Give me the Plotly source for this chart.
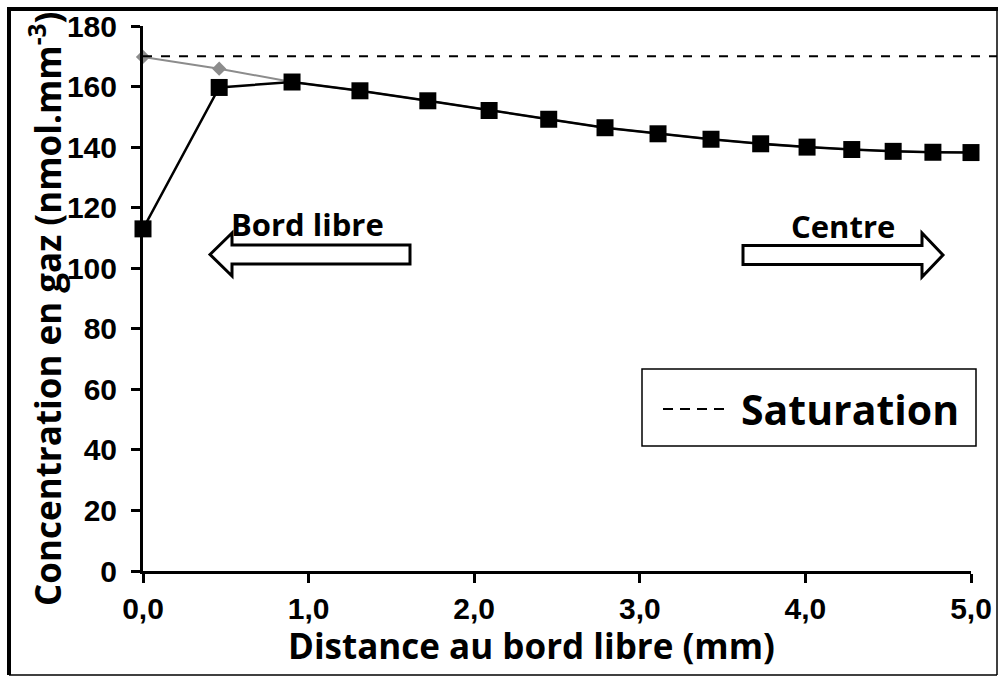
import plotly.graph_objects as go

# Gas concentration profile along the distance from the free edge
distance_mm = [0.0, 0.46, 0.90, 1.31, 1.72, 2.09, 2.45, 2.79, 3.11, 3.43, 3.73, 4.01, 4.28, 4.53, 4.77, 5.00]
conc_measured = [113.0, 159.7, 161.5, 158.6, 155.3, 152.1, 149.2, 146.4, 144.4, 142.6, 141.1, 140.0, 139.2, 138.6, 138.3, 138.2]
conc_reference = [169.8, 165.9, 161.5, 158.6, 155.3, 152.1, 149.2, 146.4, 144.4, 142.6, 141.1, 140.0, 139.2, 138.6, 138.3, 138.2]
saturation = 170.0

x_ticks = [0, 1, 2, 3, 4, 5]
y_ticks = [0, 20, 40, 60, 80, 100, 120, 140, 160, 180]

W, H = 1000, 677
L, R, T, B = 143, 971, 26, 571  # plot area in pixels


def px(X):
    return (X - L) / (R - L)


def py(Y):
    return (B - Y) / (B - T)


SANS = "'Open Sans', 'Noto Sans', sans-serif"
TICK_FONT = dict(family="'Liberation Sans', Arial, sans-serif", size=30, color="black", weight="bold")


def bold(size):
    return dict(family=SANS, size=size, color="black", weight="bold")


fig = go.Figure()

fig.add_trace(go.Scatter(
    x=distance_mm, y=conc_reference, mode="lines+markers",
    line=dict(color="#8c8c8c", width=2),
    marker=dict(symbol="diamond", size=11, color="#8c8c8c"),
    showlegend=False, cliponaxis=False,
))
fig.add_trace(go.Scatter(
    x=distance_mm, y=conc_measured, mode="lines+markers",
    line=dict(color="black", width=2.5),
    marker=dict(symbol="square", size=17, color="black"),
    showlegend=False, cliponaxis=False,
))

shapes = []
# saturation level, running out to the frame
shapes.append(dict(type="line", xref="paper", yref="y", x0=0, x1=px(997), y0=saturation, y1=saturation,
                   line=dict(color="black", width=2, dash="dash")))

# outer frame
shapes.append(dict(type="line", xref="paper", yref="paper", x0=px(9), x1=px(9), y0=py(7), y1=py(675),
                   line=dict(color="black", width=4)))
shapes.append(dict(type="line", xref="paper", yref="paper", x0=px(7), x1=px(998), y0=py(9), y1=py(9),
                   line=dict(color="black", width=4)))
shapes.append(dict(type="line", xref="paper", yref="paper", x0=px(997), x1=px(997), y0=py(9), y1=py(675),
                   line=dict(color="black", width=1.5)))
shapes.append(dict(type="line", xref="paper", yref="paper", x0=px(9), x1=px(997), y0=py(675), y1=py(675),
                   line=dict(color="black", width=1.5)))


def arrow_path(tip, base, end, cy, body_half, head_half):
    pts = [(tip, cy), (base, cy - head_half), (base, cy - body_half), (end, cy - body_half),
           (end, cy + body_half), (base, cy + body_half), (base, cy + head_half)]
    return "M " + " L ".join(f"{px(a):.5f},{py(b):.5f}" for a, b in pts) + " Z"


shapes.append(dict(type="path", xref="paper", yref="paper",
                   path=arrow_path(210, 232, 410, 254.5, 9.5, 21.5),
                   line=dict(color="black", width=3), fillcolor="white"))
shapes.append(dict(type="path", xref="paper", yref="paper",
                   path=arrow_path(943, 922, 743, 255, 9.5, 22),
                   line=dict(color="black", width=3), fillcolor="white"))

# legend box
shapes.append(dict(type="rect", xref="paper", yref="paper", x0=px(642), x1=px(976), y0=py(446), y1=py(369),
                   line=dict(color="black", width=1.5), fillcolor="white"))
shapes.append(dict(type="line", xref="paper", yref="paper", x0=px(663), x1=px(729), y0=py(409), y1=py(409),
                   line=dict(color="black", width=2, dash="10px,7px")))

annotations = [
    dict(text="Bord libre", xref="paper", yref="paper", x=px(307), y=py(224), xanchor="center", yanchor="middle",
         showarrow=False, font=bold(31)),
    dict(text="Centre", xref="paper", yref="paper", x=px(843), y=py(226), xanchor="center", yanchor="middle",
         showarrow=False, font=bold(31)),
    dict(text="Saturation", xref="paper", yref="paper", x=px(850), y=py(409), xanchor="center", yanchor="middle",
         showarrow=False, font=bold(41)),
    dict(text="Distance au bord libre (mm)", xref="paper", yref="paper", x=px(531), y=py(645),
         xanchor="center", yanchor="middle", showarrow=False, font=bold(35)),
    dict(text="Concentration en gaz (nmol.mm<sup>-3</sup>)", xref="paper", yref="paper", x=px(45), y=py(309),
         xanchor="center", yanchor="middle", textangle=-90, showarrow=False, font=bold(35)),
]

fig.update_layout(
    width=W, height=H,
    margin=dict(l=L, r=W - R, t=T, b=H - B, pad=0, autoexpand=False),
    paper_bgcolor="white", plot_bgcolor="white",
    separators=", ",
    shapes=shapes, annotations=annotations,
    showlegend=False,
)
fig.update_xaxes(
    range=[0, 5], tickvals=x_ticks, tickformat=".1f", automargin=False,
    showline=True, linecolor="black", linewidth=3,
    ticks="outside", ticklen=9, tickwidth=3, tickcolor="black",
    ticklabelstandoff=0,
    showgrid=False, zeroline=False, tickfont=TICK_FONT,
)
fig.update_yaxes(
    range=[0, 180], tickvals=y_ticks, automargin=False,
    showline=True, linecolor="black", linewidth=3,
    ticks="outside", ticklen=9, tickwidth=3, tickcolor="black",
    ticklabelstandoff=8,
    showgrid=False, zeroline=False, tickfont=TICK_FONT,
)

fig.write_html("out.html")
